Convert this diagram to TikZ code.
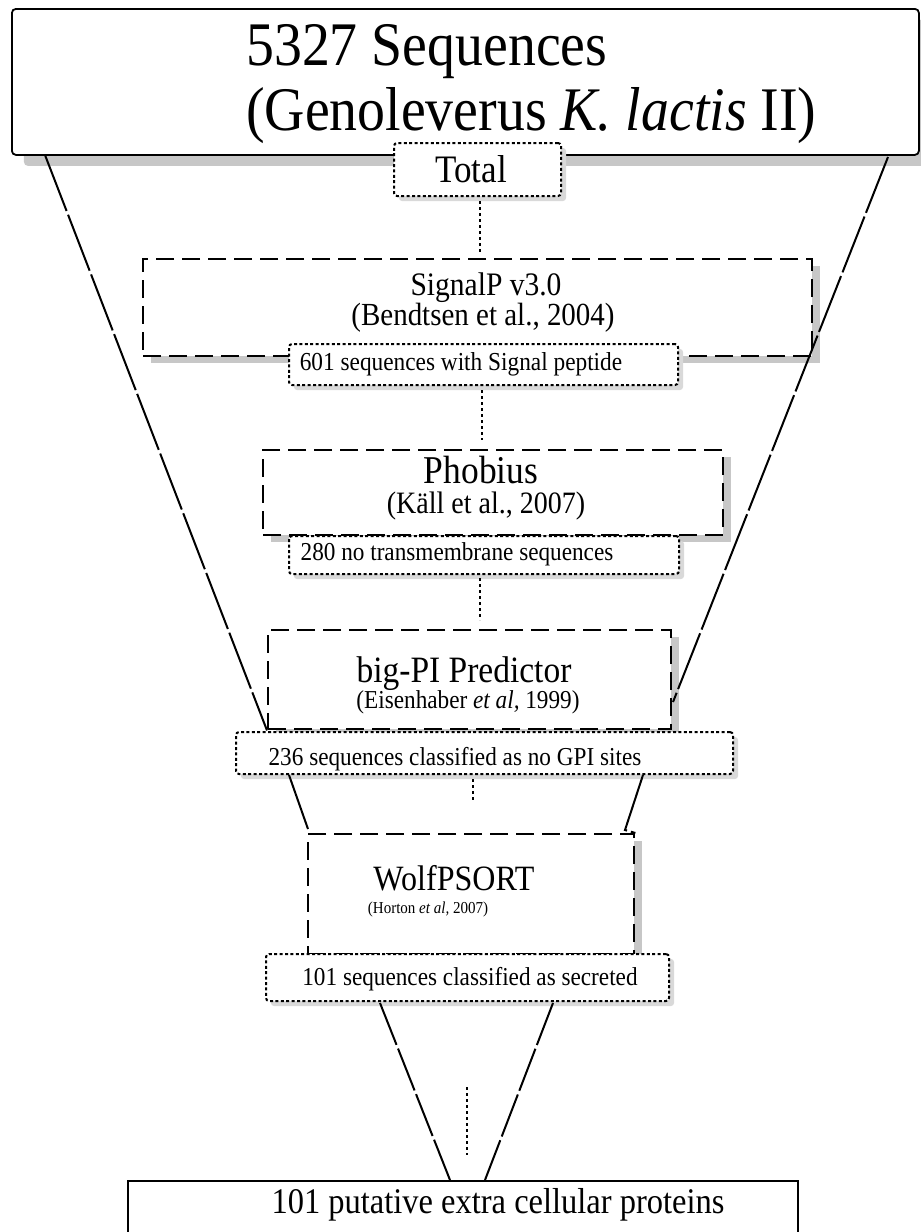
\documentclass[tikz,border=0pt]{standalone}
\usepackage{fontspec}
\setmainfont{Liberation Serif}[FakeStretch=0.9]
\usetikzlibrary{shadows,calc}
\newcommand{\fsz}[1]{\fontsize{#1}{#1}\selectfont}
\begin{document}
\begin{tikzpicture}[x=1pt,y=-1pt,
  box/.style={rectangle, anchor=north west, inner sep=0pt, fill=white, text=black},
  solidbox/.style={box, draw=black, line width=1.8pt},
  dashbox/.style={box, draw=black, line width=2.4pt, dash pattern=on 18pt off 8pt,
     drop shadow={shadow xshift=8pt, shadow yshift=-7pt, fill=black!22, opacity=1}},
  dotbox/.style={box, draw=black, line width=2pt, dash pattern=on 3pt off 2.4pt, rounded corners=3pt,
     drop shadow={shadow xshift=5pt, shadow yshift=-5pt, fill=black!15, opacity=1}},
  funnel/.style={draw=black, line width=2pt, dash pattern=on 60pt off 4pt},
  dotline/.style={draw=black, line width=2pt, dash pattern=on 3pt off 3pt},
  lbl/.style={anchor=base, inner sep=0pt, text=black}
]
\useasboundingbox (0,0) rectangle (921,1232);
\fill[white] (0,0) rectangle (921,1232);

% boxes
\node[solidbox, rounded corners=4pt, minimum width=907pt, minimum height=146pt,
  drop shadow={shadow xshift=12pt, shadow yshift=-11pt, fill=black!22, opacity=1}] (top) at (11,8) {};
\node[dotbox, minimum width=167pt, minimum height=53pt] (total) at (393,142) {};

\node[dashbox, minimum width=669pt, minimum height=97pt] (signalp) at (142,258) {};
\node[dotbox, minimum width=389pt, minimum height=41pt] (s601) at (288,343) {};

\node[dashbox, minimum width=460pt, minimum height=85pt] (phobius) at (262,449) {};
\node[dotbox, minimum width=390pt, minimum height=38pt] (s280) at (288,535) {};

\node[dashbox, minimum width=403pt, minimum height=99pt] (bigpi) at (267,629) {};
\node[dotbox, minimum width=497pt, minimum height=42pt] (s236) at (235,731) {};

\node[dashbox, minimum width=326pt, minimum height=120pt] (wolf) at (307,833) {};
\node[dotbox, minimum width=403pt, minimum height=47pt] (s101) at (265,953) {};

\node[solidbox, minimum width=670pt, minimum height=90pt] (final) at (127,1180) {};

% texts
\node[anchor=base west, inner sep=0pt] (t1) at (246,65) {\fsz{62}5327 Sequences};
\node[anchor=base west, inner sep=0pt] (t2) at (246,130) {\fsz{62}(Genoleverus \textit{K. lactis} II)};
\node[lbl] (ttotal) at (471,182) {\fsz{38.9}Total};
\node[lbl] (tsig) at (486,295) {\fsz{32.8}SignalP v3.0};
\node[lbl] (tsigc) at (483,325) {\fsz{32.2}(Bendtsen et al., 2004)};
\node[lbl] (t601) at (461,370) {\fsz{25.9}601 sequences with Signal peptide};
\node[lbl] (tpho) at (481,483) {\fsz{39.4}Phobius};
\node[lbl] (tphoc) at (486,513) {\fsz{31.1}(Käll et al., 2007)};
\node[lbl] (t280) at (457,560) {\fsz{25.8}280 no transmembrane sequences};
\node[lbl] (tbig) at (464,682) {\fsz{37.2}big-PI Predictor};
\node[lbl] (tbigc) at (468,708) {\fsz{25.8}(Eisenhaber \textit{et al,} 1999)};
\node[lbl] (t236) at (455,765) {\fsz{25.8}236 sequences classified as no GPI sites};
\node[lbl] (twolf) at (454,890) {\fsz{35.6}WolfPSORT};
\node[lbl] (twolfc) at (428,913) {\fsz{16.7}(Horton \textit{et al,} 2007)};
\node[lbl] (t101) at (470,985) {\fsz{25.8}101 sequences classified as secreted};
\node[lbl] (tfinal) at (498,1213) {\fsz{36.1}101 putative extra cellular proteins};

% funnel connectors
\coordinate (fl1) at (45,155);
\coordinate (fr1) at (888,157);
\coordinate (fr2) at (673,702);
\draw[funnel] (fl1) -- (bigpi.south west);
\draw[funnel] (fr1) -- (fr2);
\coordinate (gl1) at (289,775);
\coordinate (gl2) at (308,829);
\coordinate (gr1) at (643,775);
\coordinate (gr2) at (625,830);
\draw[funnel] (gl1) -- (gl2);
\draw[funnel] (gr1) -- (gr2) -- (wolf.north east);
\coordinate (hl1) at (380,1003);
\coordinate (hl2) at (450,1180);
\coordinate (hr1) at (553,1003);
\coordinate (hr2) at (485,1180);
\draw[funnel, dash pattern=on 45pt off 4pt] (hl1) -- (hl2);
\draw[funnel, dash pattern=on 45pt off 4pt] (hr1) -- (hr2);

% dotted connectors
\coordinate (x1) at (480,0);
\coordinate (x2) at (482,0);
\coordinate (x3) at (480,0);
\coordinate (x4) at (473,0);
\draw[dotline, shorten <=4pt, shorten >=5pt] (total.south -| x1) -- (signalp.north -| x1);
\draw[dotline, shorten <=4pt, shorten >=9pt] (s601.south -| x2) -- (phobius.north -| x2);
\draw[dotline, shorten <=3pt, shorten >=9pt] (s280.south -| x3) -- (bigpi.north -| x3);
\draw[dotline, shorten <=4pt, shorten >=30pt] (s236.south -| x4) -- (wolf.north -| x4);
\coordinate (d1) at (467,1087);
\coordinate (d2) at (467,1155);
\draw[dotline] (d1) -- (d2);
\end{tikzpicture}
\end{document}
